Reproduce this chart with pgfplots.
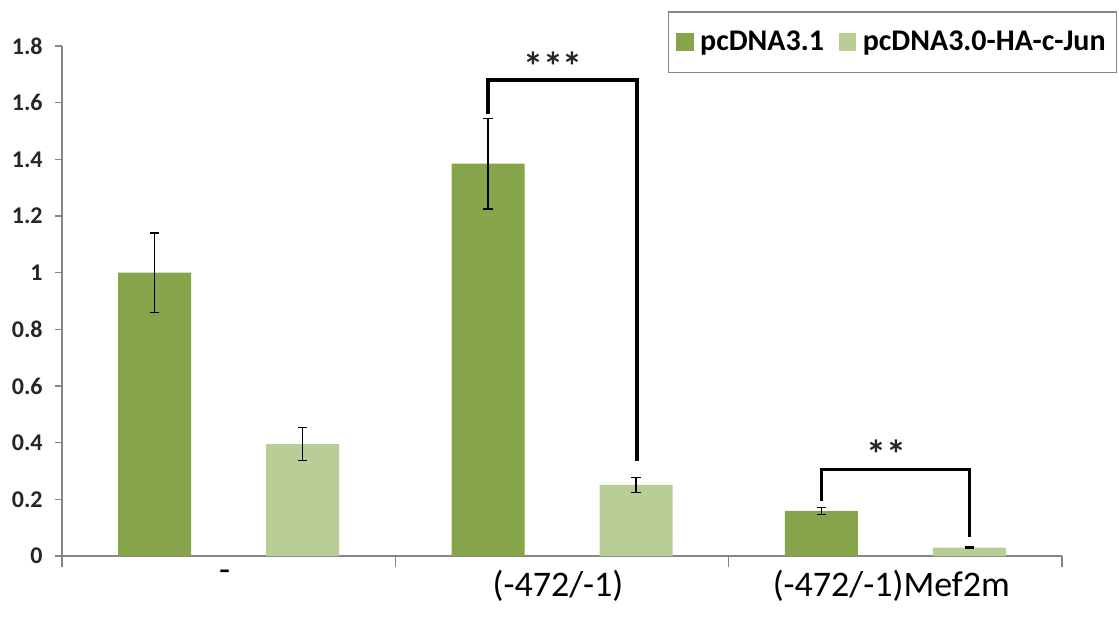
\documentclass[border=0pt]{standalone}
\usepackage{fontspec}
\setmainfont{Carlito}
\usepackage{pgfplots}
\pgfplotsset{compat=1.18}
\definecolor{dg}{RGB}{134,165,74}
\definecolor{lg}{RGB}{185,205,150}
\definecolor{ax}{RGB}{134,134,134}
\begin{document}
\begin{tikzpicture}
\useasboundingbox (-46.5pt,-47.25pt) rectangle (792.75pt,417pt);
\begin{axis}[
  at={(0pt,0pt)}, anchor=south west,
  scale only axis, width=750pt, height=382.5pt,
  xmin=-0.5, xmax=2.5, ymin=0, ymax=1.8,
  ybar, bar width=54.75pt,
  axis lines*=left,
  axis line style={draw=ax, line width=1pt},
  every tick/.style={draw=ax, line width=1pt},
  ytick={0,0.2,0.4,0.6,0.8,1,1.2,1.4,1.6,1.8},
  yticklabel style={/pgf/number format/fixed, /pgf/number format/precision=1, font=\fontsize{18}{20}\selectfont\bfseries, xshift=-6pt, text=black!85},
  /pgf/number format/assume math mode=true,
  tick align=outside,
  major tick length=5pt,
  xtick={0,1,2},
  xticklabels={-, (-472/-1), (-472/-1)Mef2m},
  xticklabel style={font=\fontsize{27}{30}\selectfont, yshift=-2pt, xshift=-3pt},
  x tick style={draw=none},
  minor xtick={-0.5,0.5,1.5,2.5},
  minor x tick style={draw=ax, line width=1pt},
  minor tick length=8pt,
  legend columns=2,
  legend style={at={(1.055,1.068)}, anchor=north east, draw=ax, line width=1pt,
    font=\fontsize{22.5}{26}\selectfont\bfseries, inner xsep=6pt, inner ysep=12.5pt,
    /tikz/every even column/.append style={column sep=9pt}},
  legend image code/.code={\fill[#1] (0pt,-6.5pt) rectangle (13pt,6.5pt); \path (0pt,0pt) -- (16pt,0pt);},
  error bars/y dir=both, error bars/y explicit,
  error bars/error bar style={black, line width=0.9pt},
  error bars/error mark options={rotate=90, mark size=3.5pt, black, line width=0.9pt},
]
\addplot[fill=dg, draw=none, bar shift=-55.5pt] coordinates {
  (0,1.0) +- (0,0.14)
  (1,1.385) +- (0,0.16)
  (2,0.159) +- (0,0.012)
};
\addplot[fill=lg, draw=none, bar shift=55.5pt] coordinates {
  (0,0.395) +- (0,0.058)
  (1,0.251) +- (0,0.027)
  (2,0.03) +- (0,0.002)
};
\legend{pcDNA3.1, pcDNA3.0-HA-c-Jun}
\draw[black, line width=2.6pt] (axis cs:0.778,1.56) -- (axis cs:0.778,1.68) -- (axis cs:1.225,1.68) -- (axis cs:1.225,0.335);
\draw[black, line width=2.3pt] (axis cs:1.778,0.194) -- (axis cs:1.778,0.304) -- (axis cs:2.222,0.304) -- (axis cs:2.222,0.067);
\node[font=\fontsize{30}{32}\selectfont\bfseries, text=black!85] at (axis cs:0.973,1.73) {***};
\node[font=\fontsize{30}{32}\selectfont\bfseries, text=black!85] at (axis cs:1.972,0.36) {**};
\end{axis}
\end{tikzpicture}
\end{document}
